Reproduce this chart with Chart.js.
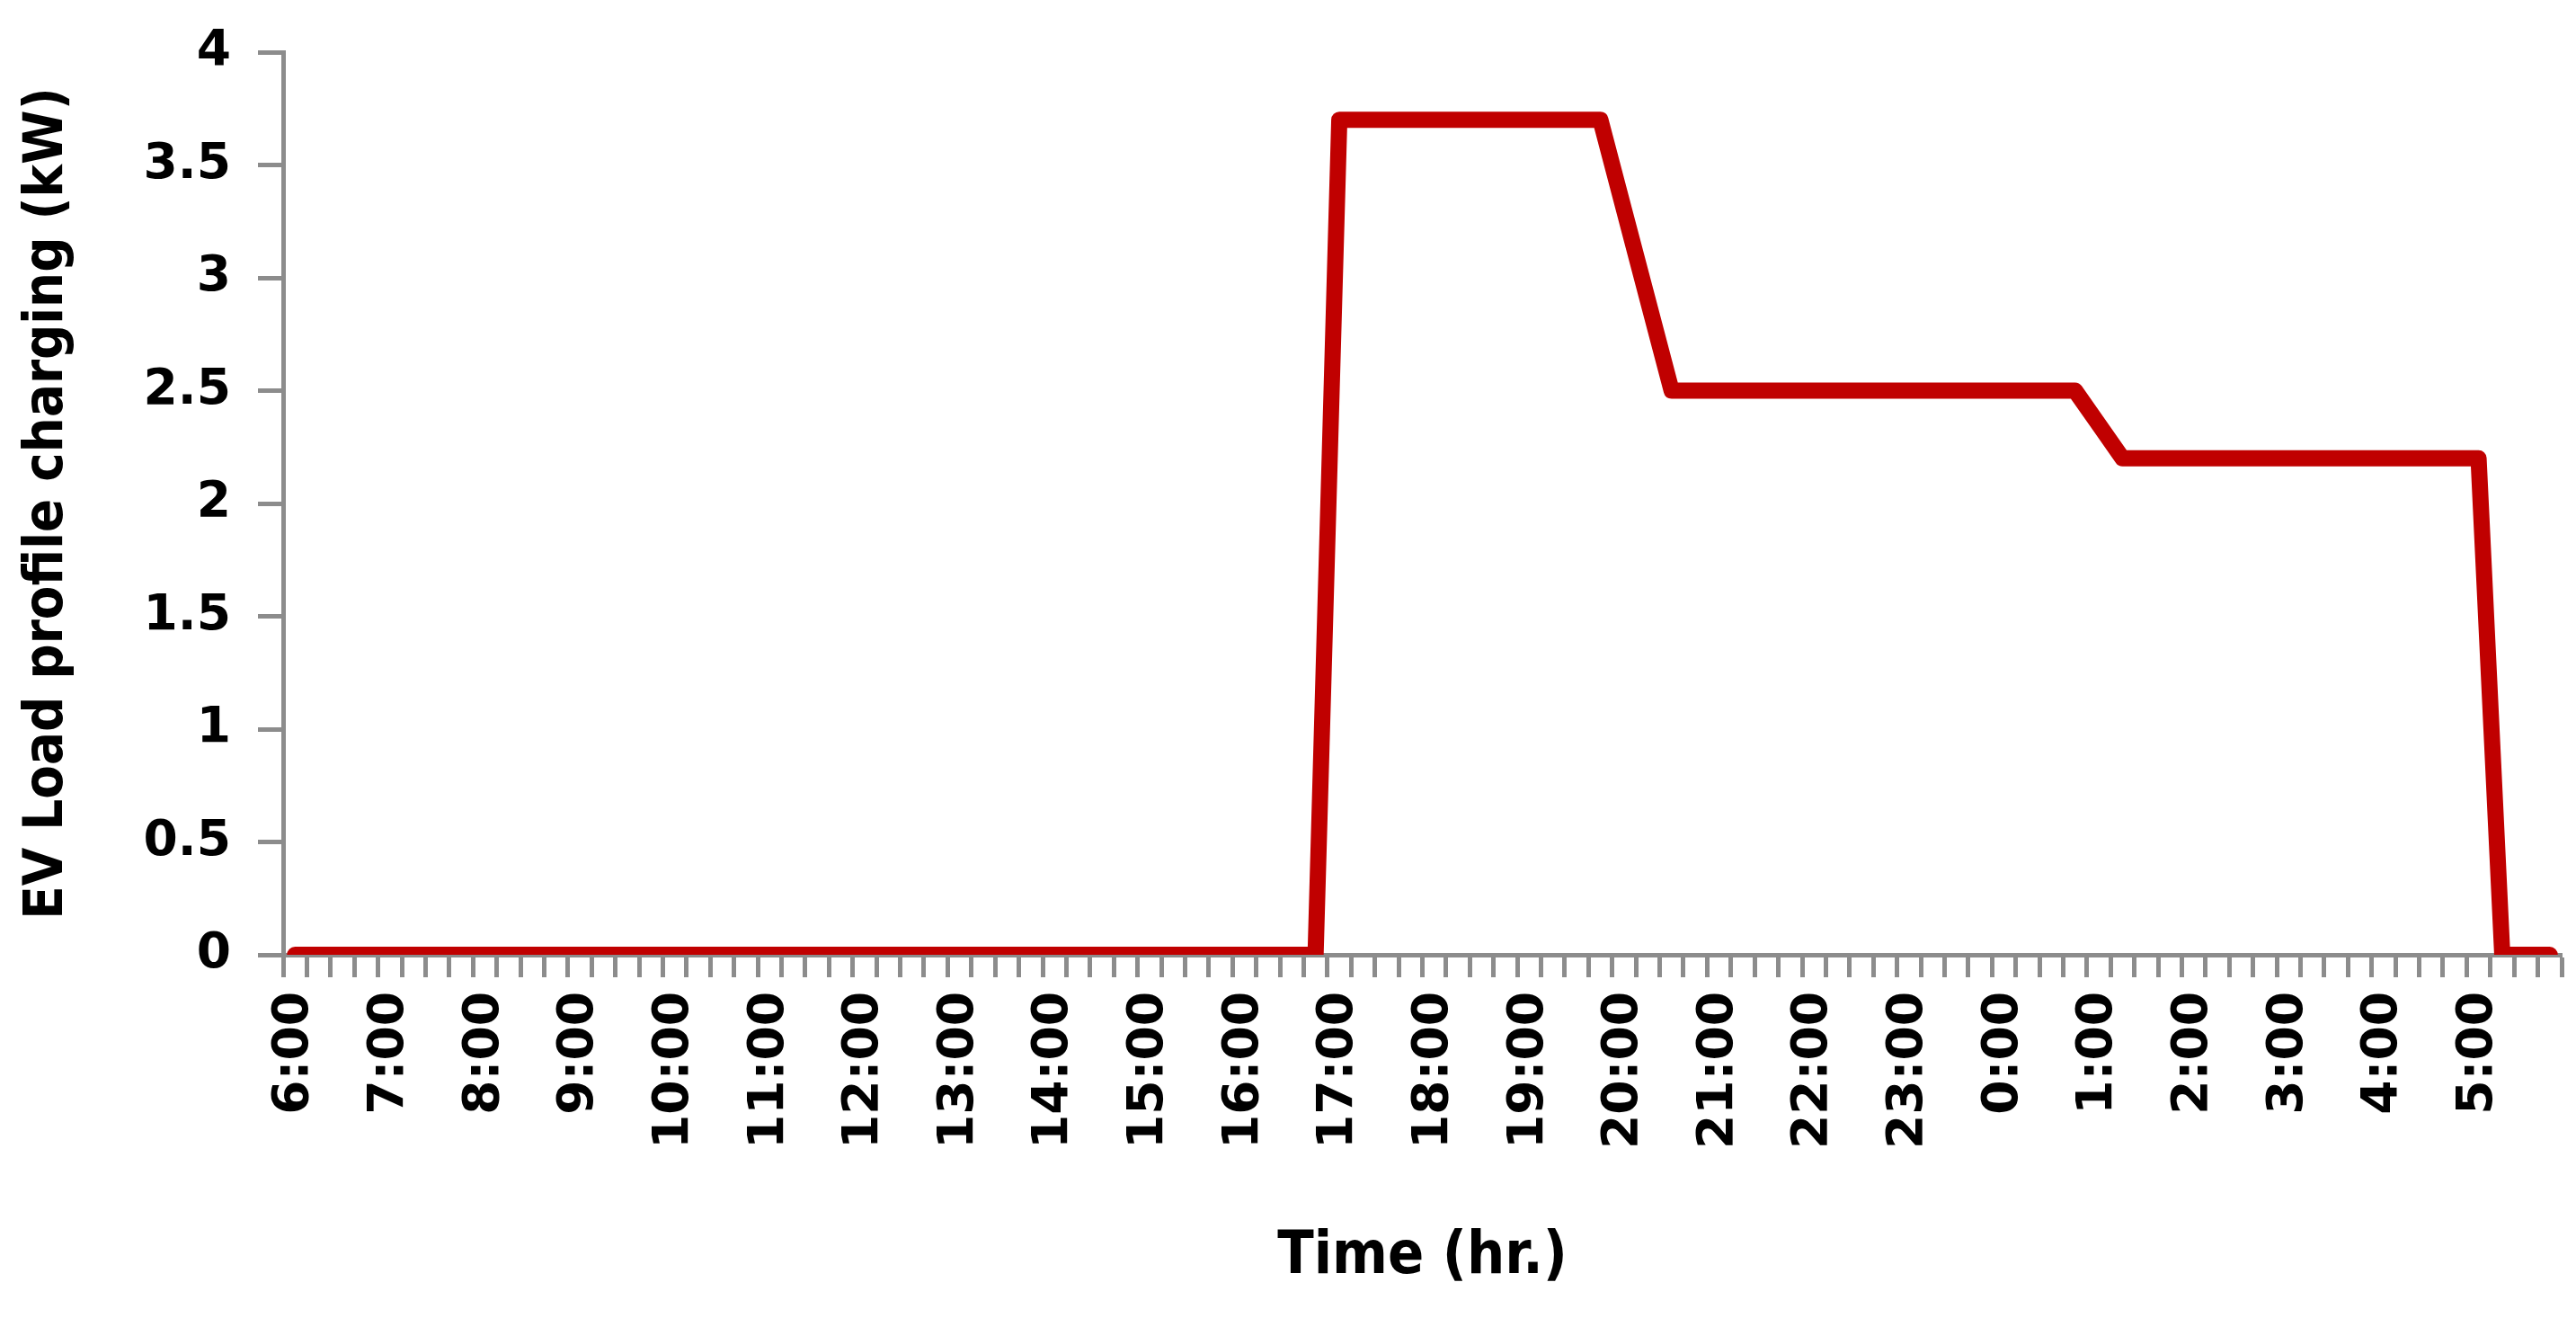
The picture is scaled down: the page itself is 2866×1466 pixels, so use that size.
<!DOCTYPE html>
<html><head><meta charset="utf-8">
<script src="https://cdn.jsdelivr.net/npm/chart.js@4/dist/chart.umd.min.js"></script>
<style>html,body{margin:0;padding:0;background:#fff;overflow:hidden;}</style>
</head><body>
<canvas id="c" width="2866" height="1466" style="width:2866px;height:1466px;display:block"></canvas>
<script>
// 15-minute categories from 6:00 to 5:45 next day
const timeLabels = [];
for (let h = 6; h < 30; h++) {
  for (const m of ['00', '15', '30', '45']) timeLabels.push((h % 24) + ':' + m);
}
// EV load profile (kW), one value per 15-minute category
const evLoadKW = [
  0,0,0,0, 0,0,0,0, 0,0,0,0, 0,0,0,0,      // 6:00 - 9:45
  0,0,0,0, 0,0,0,0, 0,0,0,0, 0,0,0,0,      // 10:00 - 13:45
  0,0,0,0, 0,0,0,0, 0,0,0,0,               // 14:00 - 16:45
  3.7,3.7,3.7,3.7, 3.7,3.7,3.7,3.7, 3.7,3.7,3.7,3.7, // 17:00 - 19:45
  3.3,2.9,2.5,2.5, 2.5,2.5,2.5,2.5,        // 20:00 - 21:45
  2.5,2.5,2.5,2.5, 2.5,2.5,2.5,2.5,        // 22:00 - 23:45
  2.5,2.5,2.5,2.5, 2.35,2.2,2.2,2.2,       // 0:00 - 1:45
  2.2,2.2,2.2,2.2, 2.2,2.2,2.2,2.2,        // 2:00 - 3:45
  2.2,2.2,2.2,2.2, 2.2,0,0,0               // 4:00 - 5:45
];
const yMin = 0, yMax = 4, yStep = 0.5;
const xTitle = 'Time (hr.)';
const yTitle = 'EV Load profile charging (kW)';

const AXIS_GREY = '#8c8c8c';
const LINE_RED = '#c00000';
const tickFont = { family: 'DejaVu Sans', weight: 'bold', size: 55 };
const condensed = "'DejaVu Sans Condensed', 'DejaVu Sans'";

new Chart(document.getElementById('c'), {
  type: 'line',
  data: {
    labels: timeLabels,
    datasets: [{
      data: evLoadKW,
      borderColor: LINE_RED,
      borderWidth: 18,
      borderJoinStyle: 'round',
      borderCapStyle: 'round',
      pointRadius: 0,
      pointHoverRadius: 0,
      tension: 0,
      fill: false
    }]
  },
  options: {
    responsive: false,
    animation: false,
    devicePixelRatio: 1,
    layout: { padding: { left: 0, top: 58, right: 16, bottom: 0 } },
    plugins: { legend: { display: false }, tooltip: { enabled: false } },
    scales: {
      x: {
        type: 'category',
        offset: true,
        grid: { offset: true, drawOnChartArea: false, drawTicks: true, tickLength: 25, tickWidth: 5, tickColor: AXIS_GREY, color: AXIS_GREY },
        border: { display: true, color: AXIS_GREY, width: 5 },
        ticks: {
          autoSkip: false, minRotation: 90, maxRotation: 90, padding: 16,
          color: '#000', font: tickFont,
          callback: function(v, i) { const l = this.getLabelForValue(v); return l.endsWith(':00') ? l : ''; }
        },
        title: { display: true, text: xTitle, color: '#000', font: { family: condensed, weight: 'bold', size: 66 }, padding: { top: 0, bottom: 28 } },
        afterFit: s => { s.height = 1466 - 1062; s.paddingLeft = 0; s.paddingRight = 0; }
      },
      y: {
        min: yMin, max: yMax,
        grid: { drawOnChartArea: false, drawTicks: true, tickLength: 28, tickWidth: 5, tickColor: AXIS_GREY, color: AXIS_GREY },
        border: { display: true, color: AXIS_GREY, width: 5 },
        ticks: { stepSize: yStep, padding: 30, color: '#000', font: tickFont, callback: v => String(Number(v)) },
        title: { display: true, text: yTitle, color: '#000', font: { family: condensed, weight: 'bold', size: 61 }, padding: { top: 17, bottom: 0 } },
        afterFit: s => { s.width = 315; s.paddingTop = 0; s.paddingBottom = 0; }
      }
    }
  }
});
</script>
</body></html>
